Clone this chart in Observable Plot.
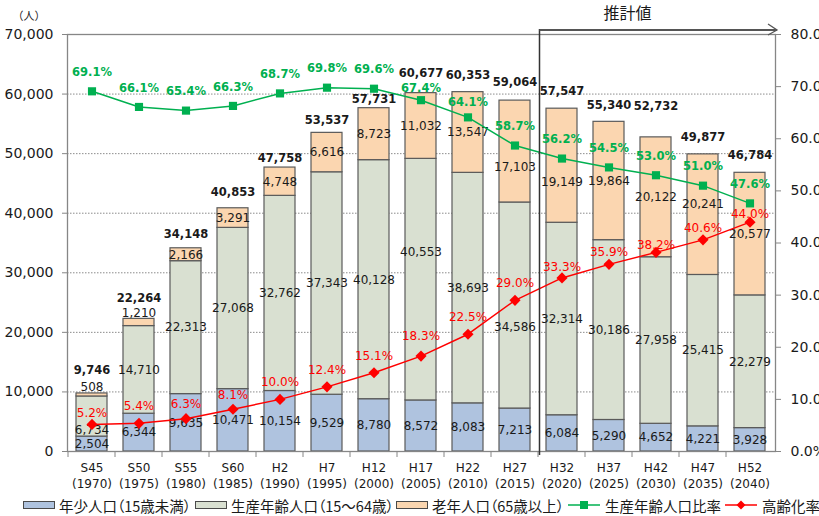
<!DOCTYPE html>
<html><head><meta charset="utf-8">
<script src="https://cdn.jsdelivr.net/npm/d3@7"></script>
<script src="https://cdn.jsdelivr.net/npm/@observablehq/plot@0.6"></script>
<style>
body{margin:0;background:#fff;width:819px;height:516px;overflow:hidden;font-family:"DejaVu Sans",sans-serif;}
#chart svg{display:block;overflow:visible}
#legend{position:relative;height:22px;font-family:"Noto Sans CJK JP",sans-serif;font-size:14.5px;font-feature-settings:"palt";color:#1a1a1a}
.item{position:absolute;top:0;height:22px;display:flex;align-items:center;white-space:nowrap}
.item svg{margin-right:3px}
</style></head><body><div id="chart"></div><div id="legend"></div>
<script>
const categories = ["S45","S50","S55","S60","H2","H7","H12","H17","H22","H27","H32","H37","H42","H47","H52"];
const years = [1970,1975,1980,1985,1990,1995,2000,2005,2010,2015,2020,2025,2030,2035,2040];
const young = [2504,6344,9635,10471,10154,9529,8780,8572,8083,7213,6084,5290,4652,4221,3928];
const working = [6734,14710,22313,27068,32762,37343,40128,40553,38693,34586,32314,30186,27958,25415,22279];
const elderly = [508,1210,2166,3291,4748,6616,8723,11032,13547,17103,19149,19864,20122,20241,20577];
const totals = [9746,22264,34148,40853,47758,53537,57731,60677,60353,59064,57547,55340,52732,49877,46784];
const workingRatio = [69.1,66.1,65.4,66.3,68.7,69.8,69.6,67.4,64.1,58.7,56.2,54.5,53.0,51.0,47.6];
const agingRate = [5.2,5.4,6.3,8.1,10.0,12.4,15.1,18.3,22.5,29.0,33.3,35.9,38.2,40.6,44.0];
const groups = ["年少人口（15歳未満）","生産年齢人口（15～64歳）","老年人口（65歳以上）"];
const lineNames = ["生産年齢人口比率","高齢化率"];
const leftTicks = [0,10000,20000,30000,40000,50000,60000,70000];
const rightTicks = [0,10,20,30,40,50,60,70,80];
const unitLabel = "（人）";
const estimateLabel = "推計値";
const firstEstimate = "H32";

// layout
const W = 819, H = 494, mt = 34, mb = 43, ml = 67, mr = 44;
const yMax = 70000, pMax = 80, PCT = yMax / pMax;
const k = yMax / (H - mt - mb); // data units per pixel
const groupColors = ["#afc3df", "#d9e0d1", "#fbd6b0"];
const green = "#00b050", red = "#ff0000", ink = "#1a1a1a";
const FONT = "'DejaVu Sans', Verdana, sans-serif";

// label nudges (pixels, + = down)
const segNudge = {"1-S45":14, "1-H17":-27, "1-H27":22, "2-S45":-8, "2-S50":-9, "2-H27":16, "2-H32":16, "2-H47":-11};
const totNudge = {S45:-23, S50:-21, S55:-14, S60:-16, H2:-9, H7:-12, H12:-8, H42:-31};
const greenNudge = {H17:-12, H22:-15};
const redNudge = {S45:-11, S55:-15, S60:-14, H17:-20, H32:-11, H37:-12, H42:-7, H47:-12, H52:-8};

const series = [young, working, elderly];
const rows = [], segLabels = [];
categories.forEach((c, i) => {
  let base = 0;
  series.forEach((arr, g) => {
    rows.push({cat: c, group: groups[g], value: arr[i]});
    const n = segNudge[g + "-" + c] || 0;
    segLabels.push({cat: c, y: base + arr[i] / 2 - n * k, text: d3.format(",")(arr[i])});
    base += arr[i];
  });
});
const totLabels = categories.map((c, i) => ({cat: c, y: totals[i] - (totNudge[c] ?? -17) * k, text: d3.format(",")(totals[i])}));
const greenPts = categories.map((c, i) => ({cat: c, v: workingRatio[i] * PCT, ly: workingRatio[i] * PCT - (greenNudge[c] ?? -19) * k, text: workingRatio[i].toFixed(1) + "%"}));
const redPts = categories.map((c, i) => ({cat: c, v: agingRate[i] * PCT, ly: agingRate[i] * PCT - (redNudge[c] ?? -17) * k, text: agingRate[i].toFixed(1) + "%"}));
const yearOf = Object.fromEntries(categories.map((c, i) => [c, years[i]]));

const plot = Plot.plot({
  width: W, height: H, marginTop: mt, marginBottom: mb, marginLeft: ml, marginRight: mr,
  style: {fontFamily: FONT, color: ink, background: "#fff"},
  x: {type: "band", domain: categories, paddingInner: 0.34, paddingOuter: 0.17, label: null},
  y: {domain: [0, yMax], label: null},
  color: {domain: groups, range: groupColors},
  marks: [
    Plot.ruleY(leftTicks.filter(d => d > 0), {stroke: "#8c8c8c", strokeDasharray: "1.5,1.5", strokeWidth: 1}),
    Plot.barY(rows, {x: "cat", y: "value", fill: "group", stroke: "#5a5a5a", strokeWidth: 1.2}),
    Plot.frame({stroke: "#868686", strokeWidth: 1.3}),
    Plot.text(segLabels, {x: "cat", y: "y", text: "text", fontSize: 12, fill: ink}),
    Plot.text(totLabels, {x: "cat", y: "y", text: "text", fontSize: 11.5, fontWeight: "bold", fill: ink}),
    Plot.line(greenPts, {x: "cat", y: "v", stroke: green, strokeWidth: 1.5}),
    Plot.dot(greenPts, {x: "cat", y: "v", symbol: "square", r: 4.6, fill: green}),
    Plot.line(redPts, {x: "cat", y: "v", stroke: red, strokeWidth: 1.5}),
    Plot.dot(redPts, {x: "cat", y: "v", symbol: "diamond2", r: 5, fill: red}),
    Plot.text(greenPts, {x: "cat", y: "ly", text: "text", fontSize: 11.5, fontWeight: "bold", fill: green}),
    Plot.text(redPts, {x: "cat", y: "ly", text: "text", fontSize: 12, fill: red}),
    Plot.axisY(leftTicks, {anchor: "left", tickFormat: d3.format(","), tickSize: 5, tickPadding: 9, fontSize: 14, stroke: "#868686", fill: ink}),
    Plot.axisY(rightTicks.map(p => p * PCT), {anchor: "right", tickFormat: v => (v / PCT).toFixed(1) + "%", tickSize: 5, tickPadding: 10, fontSize: 14, stroke: "#868686", fill: ink}),
    Plot.axisX({tickSize: 0, tickPadding: 9, tickFormat: c => c + "\n(" + yearOf[c] + ")", fontSize: 12, lineHeight: 1.35, fill: ink})
  ]
});
document.getElementById("chart").appendChild(plot);

// additions positioned through Plot's own scales
const xs = plot.scale("x"), ys = plot.scale("y");
const gap = xs.step - xs.bandwidth;
const svg = d3.select(plot);
const g = svg.append("g");
const y0 = ys.apply(0), yTop = ys.apply(yMax);
categories.forEach(c => {
  const bx = xs.apply(c) - gap / 2;
  g.append("line").attr("x1", bx).attr("x2", bx).attr("y1", y0).attr("y2", y0 + 6).attr("stroke", "#868686");
});
const xb = xs.apply(firstEstimate) - gap / 2 + 1.5;
const xEnd = W - mr + 2;
g.append("line").attr("x1", xb).attr("x2", xb).attr("y1", yTop - 5).attr("y2", y0 + 4).attr("stroke", "#333").attr("stroke-width", 1.5);
g.append("line").attr("x1", xb).attr("x2", xEnd).attr("y1", yTop - 4).attr("y2", yTop - 4).attr("stroke", "#555").attr("stroke-width", 2);
g.append("path").attr("d", `M${xEnd - 9},${yTop - 10}L${xEnd},${yTop - 4}L${xEnd - 9},${yTop + 1}`).attr("fill", "none").attr("stroke", "#555").attr("stroke-width", 1.3);
g.append("text").attr("x", xb + 88).attr("y", yTop - 19).attr("text-anchor", "middle").attr("dominant-baseline", "middle")
  .attr("font-family", "Noto Sans CJK JP").attr("font-size", 16).attr("fill", ink).text(estimateLabel);
g.append("text").attr("x", 29).attr("y", yTop - 17).attr("text-anchor", "middle").attr("dominant-baseline", "middle")
  .attr("font-family", "Noto Sans CJK JP").attr("font-size", 11).attr("fill", ink).text(unitLabel);

// legend
const legend = d3.select("#legend");
const lx = [23, 195, 396, 568, 725];
groups.forEach((name, i) => {
  const it = legend.append("div").attr("class", "item").style("left", lx[i] + "px");
  const s = it.append("svg").attr("width", 33).attr("height", 9);
  s.append("rect").attr("x", 0.5).attr("y", 0.5).attr("width", 31).attr("height", 7).attr("fill", groupColors[i]).attr("stroke", "#4a4a4a");
  it.append("span").text(name);
});
[[green, "square"], [red, "diamond2"]].forEach(([col, sym], j) => {
  const it = legend.append("div").attr("class", "item").style("left", lx[3 + j] + "px");
  const s = it.append("svg").attr("width", 34).attr("height", 12);
  s.append("line").attr("x1", 0).attr("x2", 32).attr("y1", 6).attr("y2", 6).attr("stroke", col).attr("stroke-width", 1.5);
  if (sym === "square") s.append("rect").attr("x", 12).attr("y", 2).attr("width", 8).attr("height", 8).attr("fill", col);
  else s.append("path").attr("d", "M16,1.5L20.5,6L16,10.5L11.5,6Z").attr("fill", col);
  it.append("span").text(lineNames[j]);
});
</script></body></html>
